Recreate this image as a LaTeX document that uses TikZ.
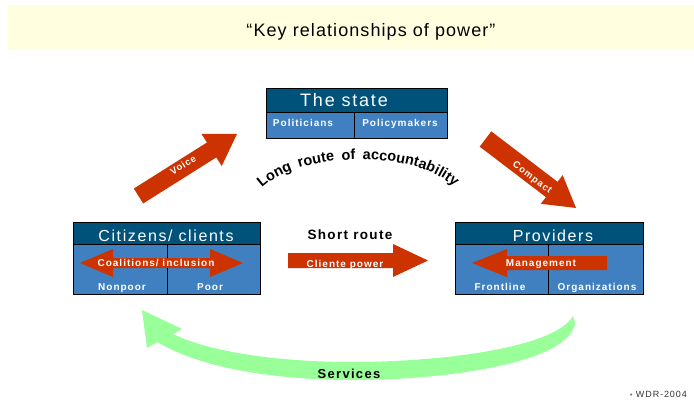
\documentclass[tikz,border=0pt]{standalone}
\usepackage{fontspec}
\setmainfont{Liberation Sans}
\newfontfamily\spaced[LetterSpace=10]{Liberation Sans}
\newfontfamily\titlefont[LetterSpace=6]{Liberation Sans}
\usetikzlibrary{decorations.text}
\definecolor{banner}{RGB}{255,255,224}
\definecolor{hdr}{RGB}{0,82,122}
\definecolor{cellblue}{RGB}{64,128,192}
\definecolor{arrred}{RGB}{204,51,0}
\definecolor{svcgreen}{RGB}{153,255,153}
\begin{document}
\begin{tikzpicture}[x=1pt,y=-1pt,
  hdrbox/.style={draw=black, line width=0.7pt, fill=hdr, inner sep=0pt, anchor=north west},
  cellbox/.style={draw=black, line width=0.7pt, fill=cellblue, inner sep=0pt, anchor=north west},
  hdrtext/.style={text=white, font=\spaced\fontsize{16}{16}\selectfont, inner sep=0pt, anchor=base},
  celltext/.style={text=white, font=\spaced\bfseries\fontsize{10}{10}\selectfont, inner sep=0pt, anchor=base},
  arrowtext/.style={text=white, font=\spaced\bfseries\fontsize{10}{10}\selectfont, inner sep=0pt, anchor=base},
  slanttext/.style={text=white, font=\spaced\bfseries\fontsize{9.5}{9.5}\selectfont, inner sep=0pt},
  blockarrow/.style={fill=arrred, draw=none},
  blacktext/.style={text=black, font=\spaced\bfseries\fontsize{13}{13}\selectfont, inner sep=0pt, anchor=base}]
\useasboundingbox (0,0) rectangle (694,400);
% banner
\fill[banner] (8,5) rectangle (694,50);
\node[font=\titlefont\fontsize{18}{18}\selectfont, inner sep=0pt, anchor=base] (title) at (371,36) {“Key relationships of power”};

% The state
\node[hdrbox, minimum width=181pt, minimum height=24pt] (stateh) at (266,88) {};
\node[cellbox, minimum width=88pt, minimum height=26pt] (statel) at (266,112) {};
\node[cellbox, minimum width=93pt, minimum height=26pt] (stater) at (354,112) {};
\node[hdrtext, font=\spaced\fontsize{18}{18}\selectfont] (statet) at (344,106.5) {The state};
\node[celltext] (polit) at (303,126.5) {Politicians};
\node[celltext] (polm) at (400,126.5) {Policymakers};

% Citizens
\node[hdrbox, minimum width=187pt, minimum height=22pt] (cith) at (73,222) {};
\node[cellbox, minimum width=94pt, minimum height=50pt] (citl) at (73,244) {};
\node[cellbox, minimum width=93pt, minimum height=50pt] (citr) at (167,244) {};
\node[hdrtext] (citt) at (166,241.5) {Citizens/ clients};
\node[celltext] (nonpoor) at (122,290) {Nonpoor};
\node[celltext] (poor) at (210,290) {Poor};

% Providers
\node[hdrbox, minimum width=188pt, minimum height=22pt] (provh) at (455,222) {};
\node[cellbox, minimum width=93pt, minimum height=50pt] (provl) at (455,244) {};
\node[cellbox, minimum width=95pt, minimum height=50pt] (provr) at (548,244) {};
\node[hdrtext] (provt) at (553,241.5) {Providers};
\node[celltext] (front) at (500,290) {Frontline};
\node[celltext] (orgs) at (597,290) {Organizations};

% Voice arrow
\begin{scope}[shift={(138.5,196)}, rotate=32.2]
  \fill[blockarrow] (0,-8.8) -- (86.4,-8.8) -- (86.4,-19) -- (116.4,0) -- (86.4,19) -- (86.4,8.8) -- (0,8.8) -- cycle;
\end{scope}
\node[slanttext, rotate=32.2] (voice) at (183,165) {Voice};

% Compact arrow
\begin{scope}[shift={(485.5,139)}, rotate=-37.3]
  \fill[blockarrow] (0,-9.6) -- (83.3,-9.6) -- (83.3,-18) -- (113.8,0) -- (83.3,18) -- (83.3,9.6) -- (0,9.6) -- cycle;
\end{scope}
\node[slanttext, rotate=-37.3] (compact) at (532,178) {Compact};

% Coalitions double arrow
\fill[blockarrow] (80,263) -- (113,249) -- (113,258) -- (210,258) -- (210,249) -- (243,263) -- (210,277) -- (210,268) -- (113,268) -- (113,277) -- cycle;
\node[arrowtext] (coal) at (156,266.7) {Coalitions/ inclusion};

% Management arrow
\fill[blockarrow] (472,263) -- (507,249) -- (507,256) -- (607,256) -- (607,270) -- (507,270) -- (507,277) -- cycle;
\node[arrowtext] (mgmt) at (541,266.7) {Management};

% Cliente power arrow
\fill[blockarrow] (288,253) -- (393,253) -- (393,244) -- (428,260.5) -- (393,277) -- (393,268) -- (288,268) -- cycle;
\node[arrowtext] (cliente) at (345,267.5) {Cliente power};
\node[blacktext, font=\spaced\bfseries\fontsize{13.5}{13.5}\selectfont] (short) at (350,239) {Short route};

% Long route text
\path[decorate, decoration={text along path, text align={fit to path stretching spaces},
  text={|\bfseries\fontsize{14.5}{14.5}\selectfont|Long route of accountability}}]
  (262,188) .. controls (301,151) and (415,149) .. (454,187);

% Services arrow
\fill[svcgreen] (573,316) .. controls (555,348) and (440,362) .. (353,362)
  .. controls (270,362) and (205,350) .. (173,334)
  -- (182,329) -- (142,310) -- (147,348) -- (157.5,342)
  .. controls (200,368) and (275,380) .. (353,380)
  .. controls (450,380) and (570,362) .. (575,323) -- cycle;
\node[blacktext] (services) at (349,378) {Services};

% source
\node[font=\spaced\fontsize{9}{9}\selectfont, text=black!80, inner sep=0pt, anchor=base east] (wdr) at (687,397) {\raisebox{-1.5pt}{\fontsize{7}{7}\selectfont *}\ WDR-2004};
\end{tikzpicture}
\end{document}
